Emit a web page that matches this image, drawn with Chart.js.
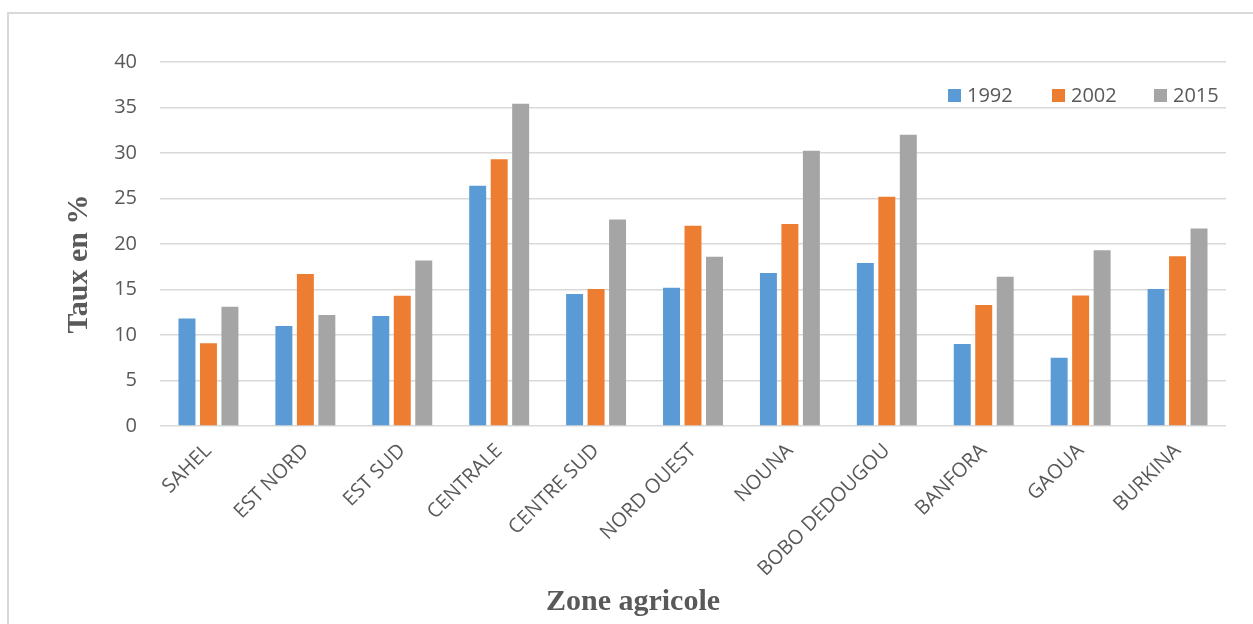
<!DOCTYPE html>
<html>
<head>
<meta charset="utf-8">
<script src="https://cdn.jsdelivr.net/npm/chart.js@4.4.1/dist/chart.umd.min.js"></script>
<style>
html,body{margin:0;padding:0;background:#fff;}
#wrap{width:1253px;height:624px;position:relative;}
</style>
</head>
<body>
<div id="wrap"><canvas id="c" width="1253" height="624"></canvas></div>
<script>
const categories = ["SAHEL","EST NORD","EST SUD","CENTRALE","CENTRE SUD","NORD OUEST","NOUNA","BOBO DEDOUGOU","BANFORA","GAOUA","BURKINA"];
const seriesNames = ["1992","2002","2015"];
const values1992 = [11.8, 11.0, 12.1, 26.4, 14.5, 15.2, 16.8, 17.9, 9.0, 7.5, 15.05];
const values2002 = [9.1, 16.7, 14.3, 29.3, 15.05, 22.0, 22.2, 25.2, 13.3, 14.35, 18.65];
const values2015 = [13.1, 12.2, 18.2, 35.4, 22.7, 18.6, 30.25, 32.0, 16.4, 19.3, 21.7];
const yTitle = "Taux en %";
const xTitle = "Zone agricole";
const colors = ["#5B9BD5", "#ED7D31", "#A5A5A5"];
const textColor = "#595959";

const decor = {
  id: 'decor',
  beforeDraw(chart) {
    const ctx = chart.ctx;
    ctx.save();
    ctx.fillStyle = '#fff';
    ctx.fillRect(0, 0, chart.width, chart.height);
    ctx.strokeStyle = '#D9D9D9';
    ctx.lineWidth = 2;
    ctx.beginPath();
    ctx.moveTo(8, chart.height);
    ctx.lineTo(8, 13);
    ctx.lineTo(chart.width, 13);
    ctx.stroke();
    ctx.restore();
  },
  afterDraw(chart) {
    const ctx = chart.ctx;
    ctx.save();
    ctx.fillStyle = textColor;
    ctx.font = 'bold 30px "Liberation Serif", "Times New Roman", serif';
    ctx.textAlign = 'center';
    ctx.textBaseline = 'alphabetic';
    ctx.fillText(xTitle, 633, 610);
    ctx.save();
    ctx.translate(87, 264);
    ctx.rotate(-Math.PI / 2);
    ctx.font = 'bold 30px "Liberation Serif", "Times New Roman", serif';
    ctx.fillText(yTitle, 0, 0);
    ctx.restore();
    const legendX = [948, 1052, 1154];
    ctx.font = '20px "Open Sans", sans-serif';
    ctx.textAlign = 'left';
    ctx.textBaseline = 'middle';
    chart.data.datasets.forEach((ds, i) => {
      ctx.fillStyle = ds.backgroundColor;
      ctx.fillRect(legendX[i], 89, 13, 13);
      ctx.fillStyle = textColor;
      ctx.fillText(ds.label, legendX[i] + 19, 96);
    });
    ctx.restore();
  }
};

new Chart(document.getElementById('c'), {
  type: 'bar',
  data: {
    labels: categories,
    datasets: [
      {label: seriesNames[0], data: values1992, backgroundColor: colors[0]},
      {label: seriesNames[1], data: values2002, backgroundColor: colors[1]},
      {label: seriesNames[2], data: values2015, backgroundColor: colors[2]}
    ]
  },
  options: {
    responsive: false,
    animation: false,
    devicePixelRatio: 1,
    layout: {padding: {left: 0, right: 27, top: 62, bottom: 0}},
    datasets: {bar: {barPercentage: 0.79, categoryPercentage: 0.665}},
    plugins: {legend: {display: false}, tooltip: {enabled: false}, title: {display: false}},
    scales: {
      x: {
        grid: {display: false, drawTicks: false},
        border: {display: false},
        ticks: {
          color: textColor,
          font: {family: '"Open Sans", sans-serif', size: 20},
          maxRotation: 45, minRotation: 45,
          padding: 13, autoSkip: false
        },
        afterFit(scale) { scale.height = 198; }
      },
      y: {
        min: 0, max: 40,
        grid: {color: '#D9D9D9', lineWidth: 1.6, drawTicks: false},
        border: {display: false},
        ticks: {
          stepSize: 5,
          color: textColor,
          font: {family: '"Open Sans", sans-serif', size: 20},
          padding: 23
        },
        afterFit(scale) { scale.width = 160; }
      }
    }
  },
  plugins: [decor]
});
</script>
</body>
</html>
